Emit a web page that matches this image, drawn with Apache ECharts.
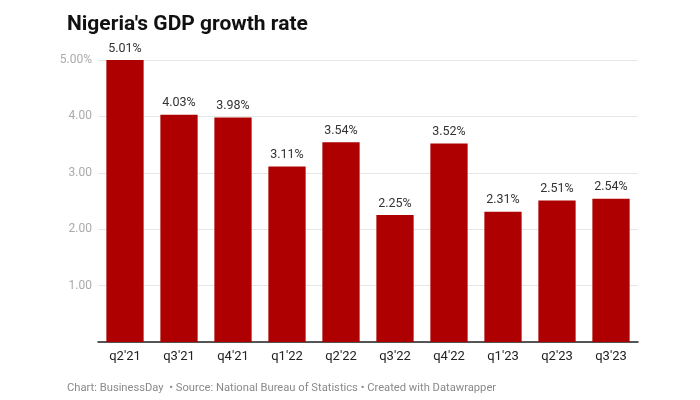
<!DOCTYPE html>
<html>
<head>
<meta charset="utf-8">
<script src="https://cdn.jsdelivr.net/npm/echarts@6/dist/echarts.min.js"></script>
<style>
  html, body { margin: 0; padding: 0; background: #fff; }
  #main { width: 700px; height: 400px; }
</style>
</head>
<body>
<div id="main"></div>
<script>
// quarters and growth rate (%)
const quarters = ["q2'21", "q3'21", "q4'21", "q1'22", "q2'22", "q3'22", "q4'22", "q1'23", "q2'23", "q3'23"];
const growth = [5.01, 4.03, 3.98, 3.11, 3.54, 2.25, 3.52, 2.31, 2.51, 2.54];
const yTicks = [1, 2, 3, 4, 5];

const chart = echarts.init(document.getElementById('main'));

const option = {
    animation: false,
    textStyle: { fontFamily: 'Roboto' },
    title: [{
        text: "Nigeria's GDP growth rate",
        left: 62,
        top: 9,
        textStyle: { fontSize: 21, fontWeight: 'bold', color: '#111', fontFamily: 'Roboto' }
    }, {
        text: 'Chart: BusinessDay  \u2022 Source: National Bureau of Statistics \u2022 Created with Datawrapper',
        left: 62,
        top: 378,
        textStyle: { fontSize: 11.2, fontWeight: 'normal', color: '#8a8a8a', fontFamily: 'Roboto' }
    }],
    grid: { left: 98, right: 62, top: 60, bottom: 58 },
    xAxis: {
        type: 'category',
        data: quarters,
        axisTick: { show: false },
        axisLine: { lineStyle: { color: '#222', width: 1.5 } },
        axisLabel: { color: '#222', fontSize: 13, margin: 8 }
    },
    yAxis: {
        type: 'value',
        min: 0,
        max: 5,
        interval: 1,
        axisLine: { show: false },
        axisTick: { show: false },
        splitLine: { lineStyle: { color: '#e6e6e6' } },
        axisLabel: {
            color: '#aaa',
            fontSize: 12,
            margin: 6,
            formatter: function (v) {
                if (yTicks.indexOf(v) < 0) return '';
                return v === 5 ? '5.00%' : v.toFixed(2);
            }
        }
    },
    series: [{
        type: 'bar',
        data: growth,
        barCategoryGap: '31%',
        itemStyle: { color: '#ae0000' },
        label: {
            show: true,
            position: 'top',
            distance: 5,
            color: '#333',
            fontSize: 12.5,
            formatter: function (p) { return p.value.toFixed(2) + '%'; }
        }
    }]
};

chart.setOption(option);
</script>
</body>
</html>
